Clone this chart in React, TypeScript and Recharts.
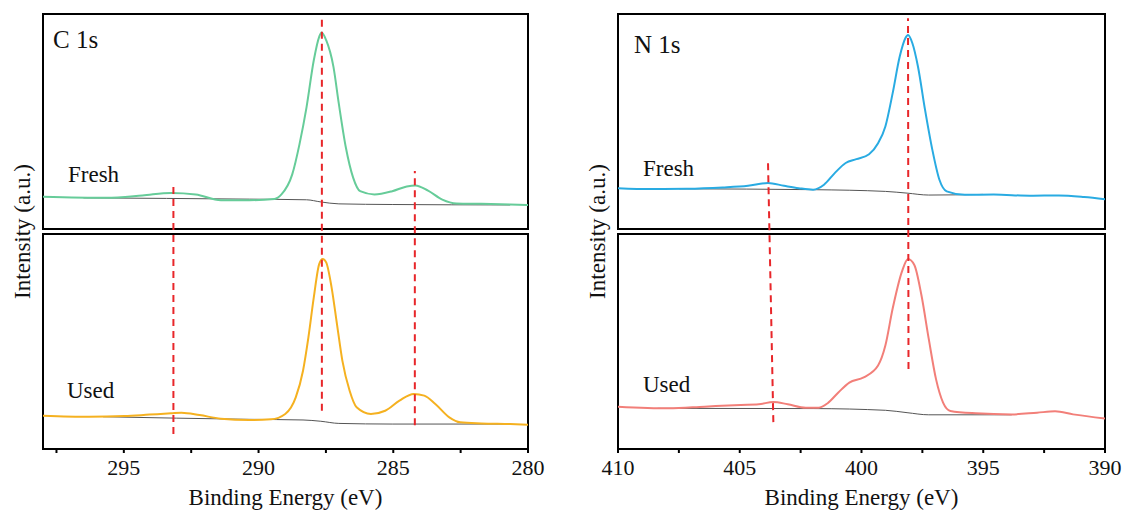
import {
  ComposedChart,
  Label,
  Line,
  ReferenceArea,
  ReferenceLine,
  XAxis,
  YAxis,
} from "recharts";

type Pt = [number, number];

// each sub-box is 0..100 a.u. tall; the Fresh box sits on top of the Used one
const TOP_OFFSET = 102.3;
const Y_MAX = 202.3;
const FONT = "Liberation Serif, DejaVu Serif, serif";

// [binding energy (eV), intensity (a.u.)]
const C_FRESH: Pt[] = [
  [298, 15.0], [295.64, 14.5], [294.31, 15.6], [293.25, 16.8], [292.33, 16.1],
  [291.4, 13.4], [290.34, 13.4], [289.41, 14.0], [289.15, 16.1], [288.75, 25.4],
  [288.48, 39.5], [288.22, 56.6], [287.95, 78.5], [287.75, 89.4], [287.66, 91.4],
  [287.49, 87.8], [287.22, 75.4], [287.02, 58.2], [286.76, 37.9], [286.49, 23.9],
  [286.23, 17.6], [285.7, 16.1], [285.04, 17.6], [284.5, 19.8], [284.18, 20.3],
  [283.71, 17.9], [283.18, 13.7], [282.65, 11.9], [281.73, 11.7], [280.66, 11.4],
  [280, 11.2],
];
const C_FRESH_BG: Pt[] = [
  [296.5, 14.5], [290.34, 13.9], [288.22, 13.6], [287.69, 12.6], [287.02, 11.7],
  [285.04, 11.4], [280.66, 11.2],
];
const C_USED: Pt[] = [
  [298, 15.5], [296.3, 15.0], [294.98, 15.3], [294.05, 16.0], [293.25, 16.6],
  [292.86, 16.9], [292.19, 15.8], [291.4, 14.1], [290.34, 13.5], [289.54, 13.8],
  [289.01, 16.3], [288.62, 24.0], [288.35, 36.4], [288.15, 51.9], [287.95, 70.5],
  [287.75, 86.0], [287.62, 88.4], [287.49, 86.8], [287.29, 75.2], [287.09, 58.1],
  [286.89, 41.1], [286.62, 27.1], [286.36, 19.4], [285.83, 16.3], [285.3, 17.8],
  [284.77, 22.5], [284.24, 25.6], [283.85, 24.8], [283.44, 20.9], [282.92, 14.7],
  [282.52, 12.4], [281.73, 11.9], [280.66, 11.6], [280, 11.3],
];
const C_USED_BG: Pt[] = [
  [295.77, 15.0], [290.34, 13.8], [288.35, 13.5], [287.69, 12.9], [287.02, 11.9],
  [285.04, 11.6], [280.66, 11.6],
];

const N_FRESH: Pt[] = [
  [410, 19.0], [408.66, 18.6], [407.18, 18.7], [405.7, 19.3], [404.66, 20.1],
  [403.84, 21.4], [403.18, 20.1], [402.58, 19.0], [401.99, 18.3], [401.54, 20.6],
  [401.1, 26.0], [400.65, 30.7], [400.21, 32.5], [399.69, 34.8], [399.32, 39.9],
  [399.02, 47.7], [398.72, 63.2], [398.43, 80.2], [398.2, 88.7], [398.09, 90.2],
  [397.91, 86.4], [397.68, 75.5], [397.39, 55.4], [397.09, 36.8], [396.8, 22.9],
  [396.5, 17.5], [395.76, 15.9], [394.57, 16.0], [393.08, 15.5], [391.9, 15.6],
  [390.86, 14.9], [390, 13.9],
];
const N_FRESH_BG: Pt[] = [
  [407.48, 18.7], [401.99, 18.3], [399.02, 17.5], [398.13, 16.7], [397.24, 15.8],
  [395.01, 16.1],
];
const N_USED: Pt[] = [
  [410, 19.7], [407.92, 18.9], [406.44, 19.7], [404.96, 20.5], [404.22, 20.8],
  [403.62, 21.9], [403.03, 20.8], [402.29, 19.2], [401.76, 19.2], [401.39, 21.3],
  [400.95, 26.3], [400.5, 30.9], [399.91, 33.3], [399.32, 38.8], [399.02, 48.1],
  [398.72, 65.3], [398.34, 82.5], [398.09, 88.4], [397.83, 85.6], [397.54, 71.6],
  [397.24, 51.3], [396.94, 32.5], [396.65, 21.6], [396.35, 17.7], [395.31, 16.6],
  [393.83, 16.1], [392.79, 16.9], [392.05, 17.5], [391.31, 16.1], [390, 14.2],
];
const N_USED_BG: Pt[] = [
  [408.37, 18.9], [401.99, 18.8], [399.02, 18.0], [398.13, 16.9], [397.24, 15.9],
  [393.83, 15.9],
];

const C_TICKS = [280, 282.5, 285, 287.5, 290, 292.5, 295, 297.5];
const N_TICKS = [390, 392.5, 395, 397.5, 400, 402.5, 405, 407.5, 410];

// dashed guides: energy at bottom / top, lower end in Used units, upper end in Fresh units
type Guide = { eLow: number; eHigh: number; low: number; high: number };
const C_GUIDES: Guide[] = [
  { eLow: 293.16, eHigh: 293.16, low: 7, high: 21.5 },
  { eLow: 287.65, eHigh: 287.65, low: 17.8, high: 99 },
  { eLow: 284.2, eHigh: 284.2, low: 11, high: 27 },
];
const N_GUIDES: Guide[] = [
  { eLow: 403.62, eHigh: 403.84, low: 12.5, high: 31.4 },
  { eLow: 398.07, eHigh: 398.09, low: 37.2, high: 98 },
];

const toRows = (pts: Pt[], off: number) => pts.map(([e, y]) => ({ e, y: y + off }));

type PanelProps = {
  width: number;
  axisWidth: number;
  marginRight: number;
  domain: [number, number];
  ticks: number[];
  fresh: Pt[];
  freshBg: Pt[];
  used: Pt[];
  usedBg: Pt[];
  freshColor: string;
  usedColor: string;
  guides: Guide[];
};

function Panel(p: PanelProps) {
  const [lo, hi] = p.domain;
  return (
    <ComposedChart
      width={p.width}
      height={520}
      margin={{ top: 14, right: p.marginRight, bottom: 0, left: 0 }}
      style={{ fontFamily: FONT }}
    >
      <XAxis
        type="number"
        dataKey="e"
        domain={[lo, hi]}
        reversed
        allowDataOverflow
        ticks={p.ticks}
        interval={0}
        tickFormatter={(v) => (Number(v) % 5 === 0 ? String(v) : "")}
        tick={{ fill: "#111", fontSize: 22, fontFamily: FONT }}
        tickSize={4}
        tickMargin={6}
        tickLine={{ stroke: "#000", strokeWidth: 2 }}
        axisLine={{ stroke: "#000", strokeWidth: 2 }}
        height={71}
      >
        <Label
          value="Binding Energy (eV)"
          position="insideBottom"
          offset={15}
          fontFamily={FONT}
          style={{ fill: "#111", fontSize: 23, fontFamily: FONT }}
        />
      </XAxis>
      <YAxis
        type="number"
        domain={[0, Y_MAX]}
        allowDataOverflow
        width={p.axisWidth}
        tick={false}
        tickLine={false}
        axisLine={false}
      >
        <Label
          value="Intensity (a.u.)"
          angle={-90}
          position="insideLeft"
          offset={p.axisWidth - 21}
          fontFamily={FONT}
          style={{ textAnchor: "middle", fill: "#111", fontSize: 23, fontFamily: FONT }}
        />
      </YAxis>
      <ReferenceArea x1={lo} x2={hi} y1={0} y2={100} fill="none" stroke="#000" strokeWidth={2} />
      <ReferenceArea
        x1={lo}
        x2={hi}
        y1={TOP_OFFSET}
        y2={Y_MAX}
        fill="none"
        stroke="#000"
        strokeWidth={2}
      />
      <Line
        data={toRows(p.freshBg, TOP_OFFSET)}
        dataKey="y"
        type="monotone"
        stroke="#555"
        strokeWidth={1}
        dot={false}
        isAnimationActive={false}
      />
      <Line
        data={toRows(p.usedBg, 0)}
        dataKey="y"
        type="monotone"
        stroke="#555"
        strokeWidth={1}
        dot={false}
        isAnimationActive={false}
      />
      <Line
        data={toRows(p.fresh, TOP_OFFSET)}
        dataKey="y"
        type="monotone"
        stroke={p.freshColor}
        strokeWidth={2}
        dot={false}
        isAnimationActive={false}
      />
      <Line
        data={toRows(p.used, 0)}
        dataKey="y"
        type="monotone"
        stroke={p.usedColor}
        strokeWidth={2}
        dot={false}
        isAnimationActive={false}
      />
      {p.guides.map((g, i) => (
        <ReferenceLine
          key={i}
          segment={[
            { x: g.eLow, y: g.low },
            { x: g.eHigh, y: g.high + TOP_OFFSET },
          ]}
          stroke="#e8262a"
          strokeWidth={2}
          strokeDasharray="7 5"
        />
      ))}
    </ComposedChart>
  );
}

const textStyle = { fontFamily: FONT, fill: "#111" };

export default function App() {
  return (
    <div
      style={{
        position: "absolute",
        left: 0,
        top: 0,
        width: 1127,
        height: 520,
        background: "#fff",
        fontFamily: FONT,
      }}
    >
      <div style={{ position: "absolute", left: 0, top: 0 }}>
        <Panel
          width={560}
          axisWidth={43}
          marginRight={32}
          domain={[280, 298]}
          ticks={C_TICKS}
          fresh={C_FRESH}
          freshBg={C_FRESH_BG}
          used={C_USED}
          usedBg={C_USED_BG}
          freshColor="#66cc99"
          usedColor="#f5b120"
          guides={C_GUIDES}
        />
      </div>
      <div style={{ position: "absolute", left: 560, top: 0 }}>
        <Panel
          width={567}
          axisWidth={58}
          marginRight={22}
          domain={[390, 410]}
          ticks={N_TICKS}
          fresh={N_FRESH}
          freshBg={N_FRESH_BG}
          used={N_USED}
          usedBg={N_USED_BG}
          freshColor="#29abe2"
          usedColor="#f27f79"
          guides={N_GUIDES}
        />
      </div>
      <svg
        width={1127}
        height={520}
        style={{ position: "absolute", left: 0, top: 0, pointerEvents: "none" }}
      >
        <text x={53} y={48} fontSize={25} fontFamily={FONT} style={textStyle}>C 1s</text>
        <text x={68} y={182} fontSize={23} fontFamily={FONT} style={textStyle}>Fresh</text>
        <text x={67} y={398} fontSize={23} fontFamily={FONT} style={textStyle}>Used</text>
        <text x={634} y={53} fontSize={25} fontFamily={FONT} style={textStyle}>N 1s</text>
        <text x={643} y={176} fontSize={23} fontFamily={FONT} style={textStyle}>Fresh</text>
        <text x={643} y={392} fontSize={23} fontFamily={FONT} style={textStyle}>Used</text>
      </svg>
    </div>
  );
}
